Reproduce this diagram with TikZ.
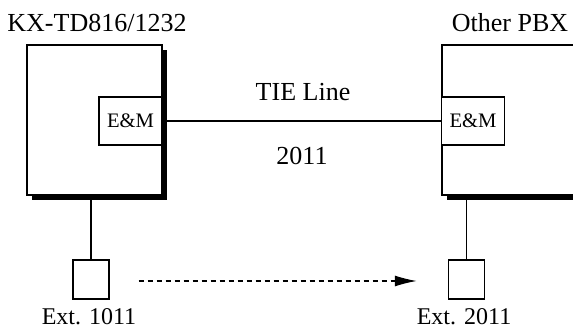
\documentclass[tikz,border=0pt]{standalone}
\usepackage{fontspec}
\setmainfont{Liberation Serif}
\usetikzlibrary{arrows.meta,shadows}
\begin{document}
\begin{tikzpicture}[x=0.5pt,y=-0.5pt,
  pbx/.style={draw,line width=0.65pt,fill=white,minimum width=67.5pt,minimum height=75pt,inner sep=0pt,
    drop shadow={shadow xshift=2.5pt,shadow yshift=-2.5pt,fill=black,opacity=1}},
  card/.style={draw,line width=0.65pt,fill=white,minimum width=31.5pt,minimum height=24pt,inner sep=0pt,
    font=\fontsize{10.3}{12}\selectfont},
  phone/.style={draw,line width=0.65pt,fill=white,minimum width=18pt,minimum height=19.5pt,inner sep=0pt},
  lbl/.style={anchor=base,inner sep=0pt,font=\fontsize{13}{15}\selectfont},
  extlbl/.style={anchor=base,inner sep=0pt,font=\fontsize{12}{14}\selectfont},
  wire/.style={line width=0.65pt}]
\useasboundingbox (0,0) rectangle (573,330);
\node[pbx] (L) at (94.5,120) {};
\node[pbx] (R) at (509.5,120) {};
\node[card] (emL) at (130.5,121) {E\&M};
\node[card] (emR) at (473,121) {E\&M};
\draw[line width=1.3pt] (emL.east) -- (emR.west);
\node[phone] (phL) at (91,279.5) {};
\node[phone] (phR) at (466.5,279.5) {};
\draw[wire] (phL.north) -- (phL.north |- L.south);
\draw[wire] (phR.north) -- (phR.north |- R.south);
\draw[wire,dash pattern=on 2.5pt off 2pt,-{Latex[length=11pt,width=5.5pt]}]
  ([xshift=14.5pt,yshift=-0.75pt]phL.east) -- ([xshift=-15.5pt,yshift=-0.75pt]phR.west);
\node[lbl] (tL) at (97,32) {KX-TD816/1232};
\node[lbl] (tR) at (510,32) {Other PBX};
\node[lbl] (tie) at (303,100.5) {TIE Line};
\node[lbl] (num) at (302,165) {2011};
\node[extlbl] (eL) at (89,325) {Ext. 1011};
\node[extlbl] (eR) at (464,325) {Ext. 2011};
\end{tikzpicture}
\end{document}
